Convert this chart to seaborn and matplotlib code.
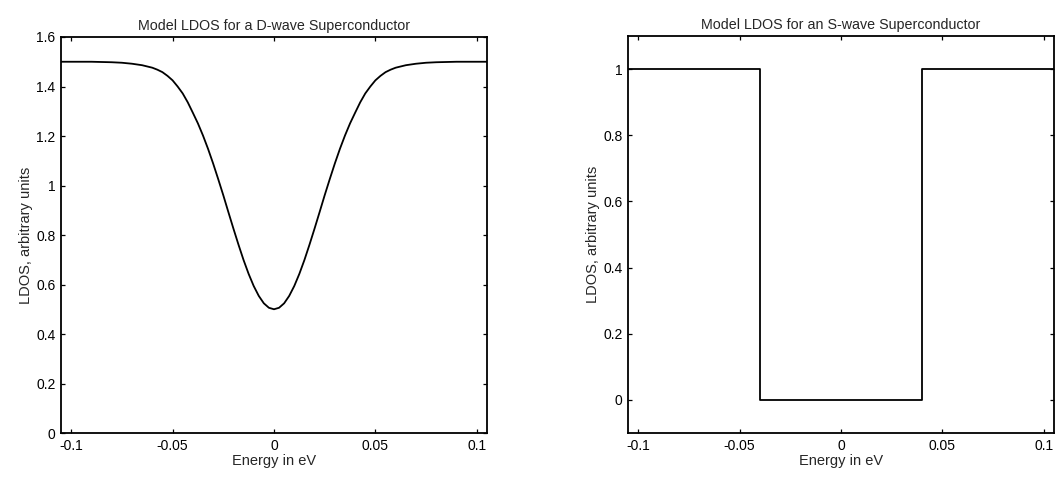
import matplotlib
matplotlib.use("Agg")
import matplotlib.pyplot as plt
import seaborn as sns
import pandas as pd

# ---- data ----
d_energy = [-0.105, -0.100, -0.095, -0.090, -0.085, -0.080, -0.075, -0.070, -0.0675, -0.065,
            -0.0625, -0.060, -0.0575, -0.055, -0.0525, -0.050, -0.0475, -0.045, -0.0425, -0.040,
            -0.0375, -0.035, -0.0325, -0.030, -0.0275, -0.025, -0.0225, -0.020, -0.0175, -0.015,
            -0.0125, -0.010, -0.0075, -0.005, -0.0025, 0.000, 0.0025, 0.005, 0.0075, 0.010,
            0.0125, 0.015, 0.0175, 0.020, 0.0225, 0.025, 0.0275, 0.030, 0.0325, 0.035,
            0.0375, 0.040, 0.0425, 0.045, 0.0475, 0.050, 0.0525, 0.055, 0.0575, 0.060,
            0.0625, 0.065, 0.0675, 0.070, 0.075, 0.080, 0.085, 0.090, 0.095, 0.100,
            0.105]
d_ldos = [1.500, 1.500, 1.500, 1.500, 1.499, 1.498, 1.496, 1.492, 1.489, 1.486,
          1.481, 1.476, 1.468, 1.458, 1.443, 1.425, 1.400, 1.372, 1.336, 1.294,
          1.251, 1.202, 1.148, 1.089, 1.026, 0.961, 0.893, 0.826, 0.761, 0.699,
          0.643, 0.594, 0.554, 0.524, 0.506, 0.500, 0.506, 0.524, 0.554, 0.594,
          0.643, 0.699, 0.761, 0.826, 0.893, 0.961, 1.026, 1.089, 1.148, 1.202,
          1.251, 1.294, 1.336, 1.372, 1.400, 1.425, 1.443, 1.458, 1.468, 1.476,
          1.481, 1.486, 1.489, 1.492, 1.496, 1.498, 1.499, 1.500, 1.500, 1.500,
          1.500]

s_energy = [-0.105, -0.040, -0.040, 0.040, 0.040, 0.105]
s_ldos = [1.0, 1.0, 0.0, 0.0, 1.0, 1.0]

x_ticks = [-0.1, -0.05, 0.0, 0.05, 0.1]
x_ticklabels = ["-0.1", "-0.05", "0", "0.05", "0.1"]
d_yticks = [0, 0.2, 0.4, 0.6, 0.8, 1.0, 1.2, 1.4, 1.6]
d_yticklabels = ["0", "0.2", "0.4", "0.6", "0.8", "1", "1.2", "1.4", "1.6"]
s_yticks = [0, 0.2, 0.4, 0.6, 0.8, 1.0]
s_yticklabels = ["0", "0.2", "0.4", "0.6", "0.8", "1"]

titles = ["Model LDOS for a D-wave Superconductor", "Model LDOS for an S-wave Superconductor"]
xlabel = "Energy in eV"
ylabel = "LDOS, arbitrary units"

# ---- plotting ----
sns.set_theme(style="white")
plt.rcParams["font.family"] = ["Liberation Sans", "DejaVu Sans"]

fig = plt.figure(figsize=(10.55, 4.78), dpi=100)
ax1 = fig.add_axes([0.0578, 0.0941, 0.4038, 0.8285])
ax2 = fig.add_axes([0.5953, 0.0941, 0.4037, 0.8306])

df_d = pd.DataFrame({"energy": d_energy, "ldos": d_ldos})
df_s = pd.DataFrame({"energy": s_energy, "ldos": s_ldos})

sns.lineplot(data=df_d, x="energy", y="ldos", ax=ax1, color="black", linewidth=1.3,
             estimator=None, sort=False)
sns.lineplot(data=df_s, x="energy", y="ldos", ax=ax2, color="black", linewidth=1.3,
             estimator=None, sort=False)

for ax, title, yt, ytl, ylim in [
    (ax1, titles[0], d_yticks, d_yticklabels, (0, 1.6)),
    (ax2, titles[1], s_yticks, s_yticklabels, (-0.1, 1.1)),
]:
    ax.set_xlim(-0.105, 0.105)
    ax.set_ylim(*ylim)
    ax.set_xticks(x_ticks)
    ax.set_xticklabels(x_ticklabels)
    ax.set_yticks(yt)
    ax.set_yticklabels(ytl)
    ax.set_title(title, fontsize=10.3, pad=5)
    ax.set_xlabel(xlabel, fontsize=10.5, labelpad=1)
    ax.set_ylabel(ylabel, fontsize=10.5, labelpad=2)
    ax.tick_params(direction="in", length=3, width=0.9, top=True, right=True,
                   bottom=True, left=True, labelsize=10, pad=4, colors="black")
    for sp in ax.spines.values():
        sp.set_visible(True)
        sp.set_color("black")
        sp.set_linewidth(1.3)

fig.savefig("out.png", dpi=100, facecolor="white")
